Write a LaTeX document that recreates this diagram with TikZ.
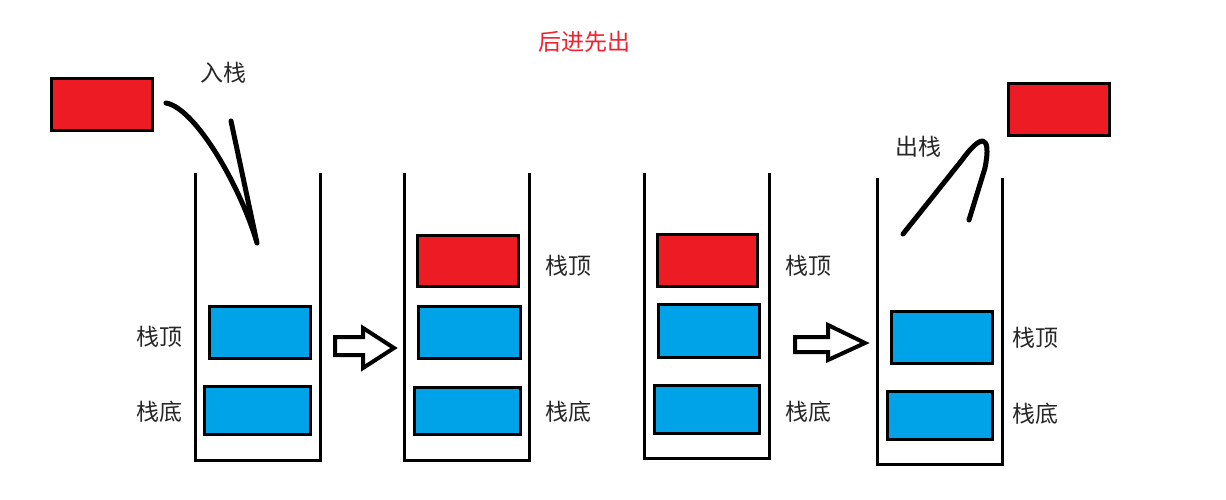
\documentclass[tikz,border=0pt]{standalone}
\usepackage{fontspec}
\newfontfamily\cjk{Noto Sans CJK SC}
\definecolor{pred}{HTML}{ED1C24}
\definecolor{pblue}{HTML}{00A2E8}
\definecolor{ttl}{HTML}{F0202C}
\begin{document}
\begin{tikzpicture}[x=1pt,y=-1pt,
  box/.style={draw=black,line width=3pt,inner sep=0pt,minimum width=101pt,minimum height=52pt},
  redbox/.style={box,fill=pred},
  bluebox/.style={box,fill=pblue},
  wall/.style={draw=black,line width=3pt},
  lbl/.style={inner sep=0pt,text=black!85,font=\cjk\fontsize{23}{27}\selectfont},
  ttlstyle/.style={inner sep=0pt,text=ttl,font=\cjk\fontsize{23}{27}\selectfont},
  stroke/.style={draw=black,line width=5pt,line cap=round,line join=round},
  blockarrow/.style={draw=black,line width=4pt,fill=white,line join=miter}]
\useasboundingbox (0,0) rectangle (1226,500);
% title
\node[ttlstyle] (title) at (584,42) {后进先出};
% stack walls
\draw[wall] (195,173) -- (195,460) -- (320,460) -- (320,173);
\draw[wall] (404,173) -- (404,460) -- (529,460) -- (529,173);
\draw[wall] (644,173) -- (644,458) -- (769,458) -- (769,173);
\draw[wall] (877,178) -- (877,464) -- (1002,464) -- (1002,178);
% boxes
\node[redbox] (r0) at (102,104.5) {};
\node[bluebox] (s1a) at (260,332.5) {};
\node[bluebox,minimum width=106pt,minimum height=48pt] (s1b) at (257.5,410.5) {};
\node[redbox,minimum height=51pt] (s2r) at (468,261) {};
\node[bluebox,minimum width=102pt] (s2a) at (469.5,332.5) {};
\node[bluebox,minimum width=106pt,minimum height=47pt] (s2b) at (467.5,411) {};
\node[redbox,minimum width=100pt] (s3r) at (707.5,260.5) {};
\node[bluebox,minimum height=53pt] (s3a) at (709,331) {};
\node[bluebox,minimum width=105pt,minimum height=48pt] (s3b) at (707,409.5) {};
\node[bluebox] (s4a) at (942,337.5) {};
\node[bluebox,minimum width=105pt,minimum height=48pt] (s4b) at (940,415.5) {};
\node[redbox] (r4) at (1059,109.5) {};
% labels
\node[lbl] (in) at (223,73) {入栈};
\node[lbl] (out) at (918,147) {出栈};
\node[lbl] (t1) at (159,337) {栈顶};
\node[lbl] (b1) at (159,412) {栈底};
\node[lbl] (t2) at (568,266) {栈顶};
\node[lbl] (b2) at (568,412) {栈底};
\node[lbl] (t3) at (808,266) {栈顶};
\node[lbl] (b3) at (808,412) {栈底};
\node[lbl] (t4) at (1035,338) {栈顶};
\node[lbl] (b4) at (1035,414) {栈底};
% push stroke
\coordinate (p0) at (166,103);
\coordinate (p1) at (257,243);
\coordinate (p2) at (231,121);
\draw[stroke] (p0) .. controls (195,108) and (240,185) .. (p1) -- (p2);
% pop stroke
\coordinate (q0) at (903,234);
\coordinate (q1) at (969,220);
\draw[stroke] (q0) -- (962,160) .. controls (980,135) and (992,132) .. (985,168) -- (q1);
% block arrows
\draw[blockarrow] (335,337) -- (363,337) -- (363,328) -- (394,348) -- (363,368) -- (363,355) -- (335,355) -- cycle;
\draw[blockarrow] (795,337) -- (828,337) -- (828,325) -- (865,343) -- (828,360) -- (828,352) -- (795,352) -- cycle;
\end{tikzpicture}
\end{document}
